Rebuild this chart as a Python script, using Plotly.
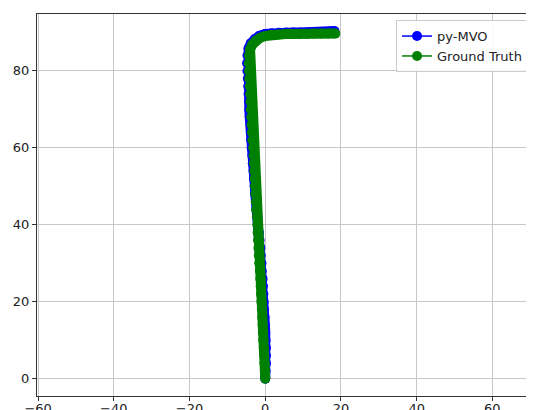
import plotly.graph_objects as go

# py-MVO estimated trajectory (x, y)
mvo_x = [0.0, 0.1, 0.2, 0.2, 0.2, 0.1, 0.0, -0.1, -0.2, -0.3, -0.4, -0.5, -0.6, -0.7, -0.9,
         -1.0, -1.2, -1.3, -1.5, -1.7, -1.9, -2.1, -2.3, -2.5, -2.7, -2.8, -3.0, -3.1, -3.3,
         -3.4, -3.6, -3.7, -3.8, -3.9, -4.1, -4.2, -4.3, -4.4, -4.5, -4.6, -4.7, -4.8, -4.7,
         -4.4, -3.8, -2.8, -1.6, 0.0, 1.7, 3.6, 5.5, 7.4, 9.3, 11.2, 13.1, 15.0, 16.9, 18.3]
mvo_y = [0, 2, 4, 6, 8, 10, 12, 14, 16, 18, 20, 22, 24, 26, 28,
         30, 32, 34, 36, 38, 40, 42, 44, 46, 48, 50, 52, 54, 56,
         58, 60, 62, 64, 66, 68, 70, 72, 74, 76, 78, 80, 82, 84,
         85.8, 87.2, 88.3, 89.1, 89.6, 89.8, 89.9, 90.0, 90.0, 90.0, 90.0, 90.0, 90.1, 90.2, 90.4]

# Ground truth trajectory (x, y)
gt_x = [0.0, -0.1, -0.2, -0.3, -0.4, -0.5, -0.6, -0.7, -0.8, -0.9, -1.0, -1.1, -1.2, -1.3, -1.4,
        -1.6, -1.7, -1.8, -1.9, -2.0, -2.1, -2.2, -2.4, -2.5, -2.6, -2.7, -2.8, -2.9, -3.0,
        -3.1, -3.2, -3.4, -3.5, -3.6, -3.7, -3.8, -3.9, -4.0, -4.1, -4.2, -4.3, -4.35, -4.3,
        -4.0, -3.4, -2.5, -1.4, 0.0, 1.6, 3.4, 5.3, 7.2, 9.1, 11.0, 12.9, 14.8, 16.7, 18.5]
gt_y = [0, 2, 4, 6, 8, 10, 12, 14, 16, 18, 20, 22, 24, 26, 28,
        30, 32, 34, 36, 38, 40, 42, 44, 46, 48, 50, 52, 54, 56,
        58, 60, 62, 64, 66, 68, 70, 72, 74, 76, 78, 80, 82, 84,
        85.6, 86.9, 87.9, 88.6, 89.1, 89.4, 89.5, 89.6, 89.6, 89.6, 89.6, 89.7, 89.7, 89.7, 89.7]

x_ticks = [-60, -40, -20, 0, 20, 40, 60]
y_ticks = [0, 20, 40, 60, 80]

font = dict(family="DejaVu Sans", size=13, color="#222222")

series = [("py-MVO", mvo_x, mvo_y, "#0000ff"), ("Ground Truth", gt_x, gt_y, "#008000")]

fig = go.Figure()
for name, xs, ys, col in series:
    # thick stroke joining the dense markers
    fig.add_trace(go.Scatter(x=xs, y=ys, mode="lines", name=name, legendgroup=name,
                             showlegend=False, hoverinfo="skip",
                             line=dict(color=col, width=10)))
    fig.add_trace(go.Scatter(x=xs, y=ys, mode="lines+markers", name=name, legendgroup=name,
                             line=dict(color=col, width=1.5),
                             marker=dict(color=col, size=10, line=dict(width=0))))

# page body has an 8px margin, so the figure is sized to end at the window edge
fig.update_layout(
    width=526, height=402,
    margin=dict(l=29, r=0, t=6, b=14, autoexpand=False),
    paper_bgcolor="white", plot_bgcolor="white",
    font=font,
    showlegend=True,
    legend=dict(x=0.988, y=0.984, xanchor="right", yanchor="top",
                bgcolor="rgba(255,255,255,0.85)", bordercolor="#cccccc", borderwidth=1,
                font=font, tracegroupgap=0, itemwidth=30),
)
fig.update_xaxes(range=[-60.3, 71], tickvals=x_ticks,
                 ticktext=["\u2212" + str(-v) if v < 0 else str(v) for v in x_ticks],
                 automargin=False, ticklabelstandoff=-4,
                 showgrid=True, gridcolor="#c8c8c8", gridwidth=1, zeroline=False,
                 showline=True, linecolor="#333333", linewidth=1.3, mirror=True,
                 ticks="outside", ticklen=4, tickcolor="#333333", tickfont=font)
fig.update_yaxes(range=[-4.5, 94.8], tickvals=y_ticks, automargin=False,
                 showgrid=True, gridcolor="#c8c8c8", gridwidth=1, zeroline=False,
                 showline=True, linecolor="#333333", linewidth=1.3, mirror=False,
                 ticks="outside", ticklen=4, tickcolor="#333333", tickfont=font)

fig.write_html("out.html")
